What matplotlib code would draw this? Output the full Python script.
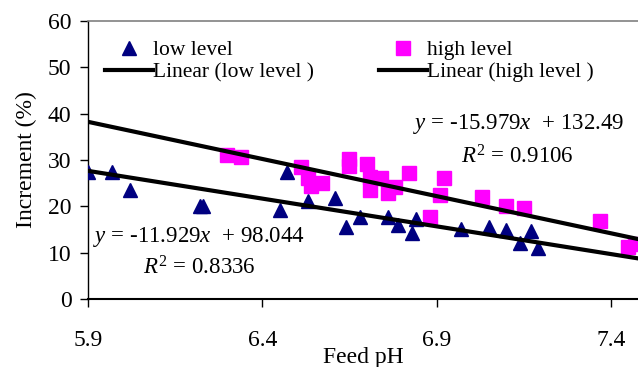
import numpy as np
import matplotlib
matplotlib.use("Agg")
import matplotlib.pyplot as plt

# Increment vs feed pH, low and high level with linear trendlines

plt.rcParams['font.family'] = ['Liberation Serif', 'DejaVu Serif']
plt.rcParams['mathtext.fontset'] = 'custom'
plt.rcParams['mathtext.rm'] = 'Liberation Serif'
plt.rcParams['mathtext.it'] = 'Liberation Serif:italic'

# data
low_ph = [5.90, 5.97, 6.02, 6.22, 6.23, 6.45, 6.47, 6.53, 6.61, 6.64, 6.68,
          6.76, 6.79, 6.83, 6.84, 6.97, 7.05, 7.10, 7.14, 7.17, 7.19]
low_inc = [27.4, 27.4, 23.6, 20.1, 20.1, 19.3, 27.4, 21.1, 21.9, 15.5, 17.7,
           17.7, 16.0, 14.3, 17.3, 15.2, 15.5, 14.9, 12.2, 14.7, 11.0]

high_ph = [6.30, 6.34, 6.51, 6.53, 6.54, 6.57, 6.65, 6.65, 6.70, 6.71, 6.71, 6.74,
           6.76, 6.78, 6.82, 6.88, 6.91, 6.92, 7.03, 7.10, 7.15, 7.37, 7.45, 7.47]
high_inc = [31.1, 30.6, 28.5, 26.1, 24.4, 25.0, 30.3, 28.7, 29.1, 26.3, 23.5, 26.1,
            22.9, 24.2, 27.2, 17.7, 22.4, 26.1, 22.0, 20.1, 19.6, 16.8, 11.2, 12.0]

# trendline coefficients as printed on the chart
low_fit = (-11.929, 98.044)
high_fit = (-15.979, 132.49)
low_r2 = 0.8336
high_r2 = 0.9106

x_ticks = [5.9, 6.4, 6.9, 7.4]
y_ticks = [0, 10, 20, 30, 40, 50, 60]

fig = plt.figure(figsize=(6.38, 3.67), dpi=100)
ax = fig.add_axes([0.138, 0.184, 0.862, 0.76])

xlim = (5.9, 7.478)
xs = np.array(xlim)

ax.plot(low_ph, low_inc, '^', color='#000080', markersize=10.5, linestyle='none',
        label='low level', zorder=3)
ax.plot(xs, np.polyval(low_fit, xs), color='black', lw=3,
        label='Linear (low level )', zorder=4)
ax.plot(high_ph, high_inc, 's', color='#FF00FF', markersize=9.5, linestyle='none',
        label='high level', zorder=3)
ax.plot(xs, np.polyval(high_fit, xs), color='black', lw=3,
        label='Linear (high level )', zorder=4)

eq_size = 16.5
ax.text(6.832, 37.8, r'$y$ = -15.979$x$  + 132.49', fontsize=eq_size, va='center', ha='left')
ax.text(6.97, 30.6, r'$R^2$ = %.4f' % high_r2, fontsize=eq_size, va='center', ha='left')
ax.text(5.914, 13.4, r'$y$ = -11.929$x$  + 98.044', fontsize=eq_size, va='center', ha='left')
ax.text(6.058, 6.7, r'$R^2$ = %.4f' % low_r2, fontsize=eq_size, va='center', ha='left')

ax.set_xlim(xlim)
ax.set_ylim(0, 60)
ax.set_xticks(x_ticks)
ax.set_xticklabels(['%.1f' % t for t in x_ticks])
ax.set_yticks(y_ticks)
ax.tick_params(axis='x', direction='out', length=6, width=1, pad=16, labelsize=17)
ax.tick_params(axis='y', direction='out', length=6, width=1, pad=6, labelsize=17)

ax.spines['right'].set_visible(False)
ax.spines['top'].set_color('#808080')
ax.spines['top'].set_linewidth(1.2)
ax.spines['left'].set_linewidth(1)
ax.spines['bottom'].set_linewidth(1.5)

ax.set_xlabel('Feed pH', fontsize=17, labelpad=-3)
ax.set_ylabel('Increment (%)', fontsize=17, labelpad=8)

ax.legend(ncol=2, frameon=False, fontsize=15.5, loc='upper left',
          bbox_to_anchor=(0.031, 0.93), handlelength=2.23, handletextpad=0.0,
          columnspacing=3.0, labelspacing=0.1, borderaxespad=0, borderpad=0)

fig.savefig('out.png', dpi=100)
